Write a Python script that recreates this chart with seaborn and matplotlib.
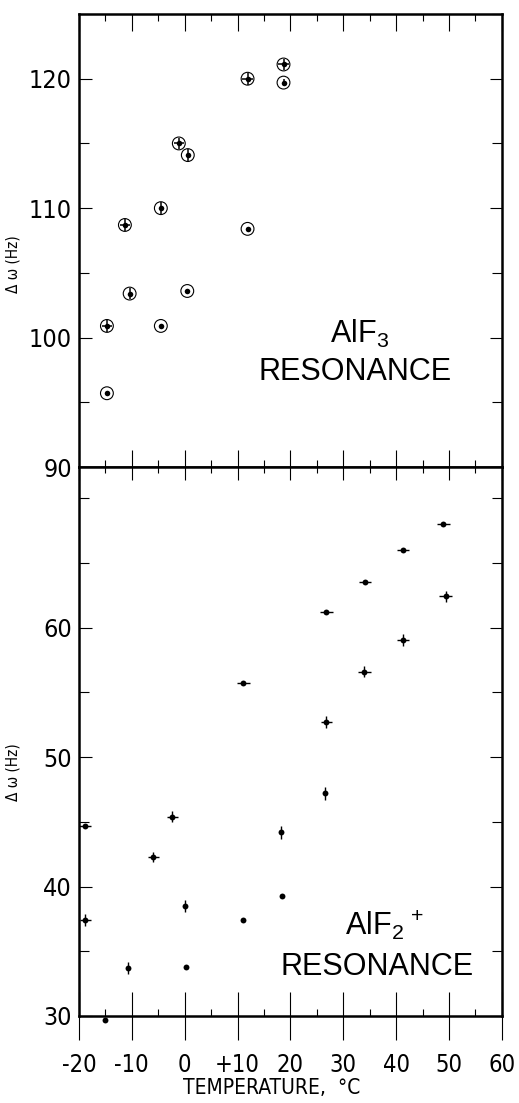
import numpy as np
import pandas as pd
import matplotlib
matplotlib.use("Agg")
import matplotlib.pyplot as plt
from matplotlib.ticker import MultipleLocator
import seaborn as sns

sns.set_style("white")
plt.rcParams['font.family'] = ['DejaVu Sans']
plt.rcParams['font.stretch'] = 'condensed'
plt.rcParams['text.color'] = 'black'
plt.rcParams['axes.labelcolor'] = 'black'
plt.rcParams['xtick.color'] = 'black'
plt.rcParams['ytick.color'] = 'black'
plt.rcParams['mathtext.fontset'] = 'custom'
plt.rcParams['mathtext.rm'] = 'Liberation Sans'

# AlF3 resonance (top panel)
top_temp = [-11.3, -4.5, -1.1, 0.6, 11.9, 11.9, 18.7, 18.7, -14.7, -10.4, -4.5, 0.5, -14.7]
top_shift = [108.7, 110.0, 115.0, 114.1, 120.0, 108.4, 121.1, 119.7, 100.9, 103.4, 100.9, 103.6, 95.7]
top_xerr = [1.0, 0, 1.0, 0, 1.0, 0, 1.0, 0, 1.0, 0, 0, 0, 0]
top_yerr = [0.45, 0.45, 0.45, 0.45, 0.45, 0, 0.45, 0.3, 0.45, 0.45, 0, 0, 0]

# AlF2+ resonance (bottom panel)
bot_temp = [48.9, 41.3, 34.1, 49.4, 26.8, 41.3, 11.1, 34.0, 26.8, 26.6, -2.3,
            -18.9, -5.9, 18.2, -18.8, 0.1, 18.4, 11.1, -10.7, 0.2, -15.0]
bot_shift = [68.0, 66.0, 63.5, 62.4, 61.2, 59.05, 55.7, 56.6, 52.7, 47.2, 45.4,
             44.7, 42.3, 44.2, 37.4, 38.5, 39.3, 37.4, 33.7, 33.75, 29.7]
bot_xerr = [1.2, 1.2, 1.2, 1.2, 1.2, 1.2, 1.2, 1.2, 1.0, 0, 1.0,
            1.2, 1.0, 0, 1.0, 0, 0, 0, 0, 0, 0]
bot_yerr = [0, 0, 0, 0.45, 0, 0.45, 0, 0.45, 0.45, 0.5, 0.45,
            0, 0.4, 0.5, 0.45, 0.45, 0, 0, 0.45, 0, 0]

xtick_vals = [-20, -10, 0, 10, 20, 30, 40, 50, 60]
xtick_text = ['-20', '-10', '0', '+10', '20', '30', '40', '50', '60']

top = pd.DataFrame({'temp': top_temp, 'shift': top_shift})
bot = pd.DataFrame({'temp': bot_temp, 'shift': bot_shift})

fig = plt.figure(figsize=(5.19, 11.03), dpi=100)
ax1 = fig.add_axes([0.152, 0.5766, 0.815, 0.4107])
ax2 = fig.add_axes([0.152, 0.0789, 0.815, 0.4977])

# top panel: dots inside open circles
ax1.errorbar(top_temp, top_shift, xerr=top_xerr, yerr=top_yerr, fmt='none',
             ecolor='black', elinewidth=1.1, capsize=0, zorder=2)
sns.scatterplot(data=top, x='temp', y='shift', ax=ax1, s=85, marker='o',
                facecolor='none', edgecolor='black', linewidth=0.8, zorder=3)
sns.scatterplot(data=top, x='temp', y='shift', ax=ax1, s=16, color='black',
                edgecolor='black', linewidth=0, zorder=4)

# bottom panel: plain dots
ax2.errorbar(bot_temp, bot_shift, xerr=bot_xerr, yerr=bot_yerr, fmt='none',
             ecolor='black', elinewidth=1.0, capsize=0, zorder=2)
sns.scatterplot(data=bot, x='temp', y='shift', ax=ax2, s=18, color='black',
                edgecolor='black', linewidth=0, zorder=4, clip_on=False)

for ax in (ax1, ax2):
    ax.set_xlim(-20, 60)
    ax.xaxis.set_major_locator(MultipleLocator(10))
    ax.xaxis.set_minor_locator(MultipleLocator(5))
    ax.yaxis.set_major_locator(MultipleLocator(10))
    ax.yaxis.set_minor_locator(MultipleLocator(5))
    for s in ax.spines.values():
        s.set_linewidth(1.8)
        s.set_color('black')
    ax.tick_params(axis='y', which='both', direction='in', left=True, right=True,
                   width=0.8, color='black', labelsize=18, pad=5)
    ax.tick_params(axis='y', which='major', length=9)
    ax.tick_params(axis='y', which='minor', length=7)
    ax.set_xlabel('')
    ax.set_ylabel('Δ ω (Hz)', fontsize=11)

ax1.set_ylim(90, 125)
ax2.set_ylim(30, 72.4)
ax1.set_yticks([90, 100, 110, 120])
ax2.set_yticks([30, 40, 50, 60])

ax1.tick_params(axis='x', which='both', direction='in', top=True, bottom=True,
                labelbottom=False, width=0.8)
ax1.tick_params(axis='x', which='major', length=12)
ax1.tick_params(axis='x', which='minor', length=5)

ax2.set_xticks(xtick_vals)
ax2.set_xticklabels(xtick_text)
ax2.tick_params(axis='x', which='major', direction='inout', length=34,
                width=0.8, labelsize=17, pad=10, bottom=True, top=False)
ax2.tick_params(axis='x', which='minor', direction='in', length=5, width=0.8,
                bottom=True, top=False)
sec = ax2.secondary_xaxis('top')
sec.xaxis.set_major_locator(MultipleLocator(10))
sec.xaxis.set_minor_locator(MultipleLocator(5))
sec.tick_params(axis='x', which='both', direction='in', labeltop=False, width=0.8)
sec.tick_params(axis='x', which='major', length=9)
sec.tick_params(axis='x', which='minor', length=4)
sec.spines['top'].set_visible(False)

ax1.yaxis.set_label_coords(-0.139, 0.448)
ax2.yaxis.set_label_coords(-0.139, 0.444)

ax2.set_xlabel('TEMPERATURE,  °C', fontsize=15)
ax2.xaxis.set_label_coords(0.456, -0.113)

ax1.text(0.664, 0.274, 'AlF$_3$', transform=ax1.transAxes, ha='center',
         va='baseline', fontsize=22, family=['Liberation Sans'])
ax1.text(0.652, 0.192, 'RESONANCE', transform=ax1.transAxes, ha='center',
         va='baseline', fontsize=22, family=['Liberation Sans'])
ax2.text(0.723, 0.1475, 'AlF$_2$$^{\\,+}$', transform=ax2.transAxes, ha='center',
         va='baseline', fontsize=22, family=['Liberation Sans'])
ax2.text(0.705, 0.0747, 'RESONANCE', transform=ax2.transAxes, ha='center',
         va='baseline', fontsize=22, family=['Liberation Sans'])

fig.savefig('out.png', dpi=100)
